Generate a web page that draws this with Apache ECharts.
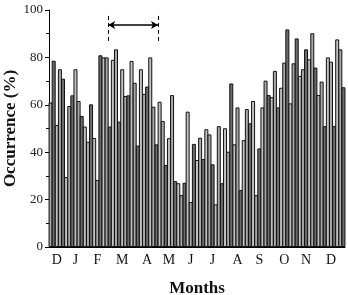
<!DOCTYPE html>
<html lang="en">
<head>
    <meta charset="UTF-8">
    <title></title>
    <style>
        * {
            margin: 0;
            padding: 0;
            box-sizing: border-box;
        }

        html, body {
            width: 348px;
            height: 295px;
            background: #ffffff;
            overflow: hidden;
        }

        #chart {
            width: 348px;
            height: 295px;
        }
    </style>
    <script type="text/javascript" src="https://cdn.jsdelivr.net/npm/echarts@6/dist/echarts.min.js"></script>
</head>
<body>
<div id="chart"></div>
<script type="text/javascript">
    // occurrence (%) per period, Dec -> Dec
    var occurrence = [
        61, 78.6, 51.5, 75, 71, 29.5, 59.5, 64, 75, 61.6,
        55.3, 50.8, 44.4, 60.2, 46, 28.3, 80.9, 80, 80, 50.8,
        79, 83.4, 52.9, 75, 63.7, 64, 78.5, 69.3, 42.8, 75,
        64.6, 67.7, 80, 59.2, 43.3, 61.3, 53.2, 34.6, 45.9, 64.1,
        27.8, 26.9, 21.9, 27.1, 57.1, 19, 43.5, 36.7, 46.1, 37.1,
        49.7, 47.5, 34.9, 18, 51, 26.9, 50.1, 40.2, 69, 43.3,
        58.9, 24, 45.1, 58.2, 52.2, 61.6, 21.9, 41.6, 58.9, 70.2,
        64.1, 63.2, 74.3, 58.9, 67.2, 77.8, 91.8, 60.6, 77.5, 88,
        72.2, 75, 83.4, 79.2, 90.2, 75.7, 64.1, 69.8, 51, 80,
        78.2, 51, 87.6, 83.4, 67.4
    ]
    var months = ['D', 'J', 'F', 'M', 'A', 'M', 'J', 'J', 'A', 'S', 'O', 'N', 'D']
    // index of first period in each month
    var monthStart = [0, 5, 12, 19, 27, 35, 42, 49, 56, 64, 71, 79, 86]
    var yTicks = [0, 20, 40, 60, 80, 100]
    // span marked by the arrow (period boundaries), and its height (%)
    var spanFrom = 19
    var spanTo = 35
    var spanLevel = 93.7

    var n = occurrence.length
    var cats = occurrence.map(function (_v, i) { return String(i + 1) })
    var labelIdx = {}
    monthStart.forEach(function (s, m) {
        var e = m + 1 < monthStart.length ? monthStart[m + 1] : n
        labelIdx[Math.floor((s + e) / 2)] = months[m]
    })
    var fills = ['#a9a9a9', '#6c6c6c', '#c2c2c2']
    var serif = '"Liberation Serif", "DejaVu Serif", serif'

    var myChart = echarts.init(document.getElementById('chart'))
    var option = {
        animation: false,
        grid: {left: 49, right: 3, top: 10, bottom: 48, outerBoundsMode: 'none', containLabel: false},
        xAxis: [
            {
                type: 'category',
                data: cats,
                name: 'Months',
                nameLocation: 'middle',
                nameGap: 33,
                nameMoveOverlap: false,
                nameTextStyle: {fontFamily: serif, fontWeight: 'bold', fontSize: 17, color: '#111'},
                axisLine: {lineStyle: {color: '#000', width: 1}},
                axisTick: {
                    length: 4,
                    lineStyle: {color: '#000'},
                    interval: function (i) { return monthStart.indexOf(i) >= 0 }
                },
                axisLabel: {
                    interval: function (i) { return labelIdx[i] !== undefined },
                    formatter: function (_v, i) { return labelIdx[i] || '' },
                    fontFamily: serif,
                    fontSize: 14,
                    color: '#111',
                    margin: 6
                },
                splitLine: {show: false}
            },
            {
                type: 'value',
                min: 0,
                max: n,
                show: false
            }
        ],
        yAxis: {
            type: 'value',
            min: yTicks[0],
            max: yTicks[yTicks.length - 1],
            interval: 20,
            name: 'Occurrence (%)',
            nameLocation: 'middle',
            nameGap: 30,
            nameMoveOverlap: false,
            nameTextStyle: {fontFamily: serif, fontWeight: 'bold', fontSize: 17, color: '#111'},
            axisLine: {show: true, lineStyle: {color: '#000'}},
            axisTick: {show: true, length: 4, lineStyle: {color: '#000'}},
            minorTick: {show: true, splitNumber: 2, length: 3, lineStyle: {color: '#000'}},
            axisLabel: {fontFamily: serif, fontSize: 13, color: '#222', margin: 6},
            splitLine: {show: false}
        },
        series: [
            {
                type: 'bar',
                data: occurrence,
                barWidth: 4,
                itemStyle: {
                    color: function (p) { return fills[p.dataIndex % fills.length] },
                    borderColor: '#111',
                    borderWidth: 1
                }
            },
            {
                type: 'line',
                xAxisIndex: 1,
                data: [],
                silent: true,
                markLine: {
                    silent: true,
                    label: {show: false},
                    data: [
                        [
                            {coord: [spanFrom, 97.5], symbol: 'none', lineStyle: {type: [4, 3], width: 1, color: '#000'}},
                            {coord: [spanFrom, 86], symbol: 'none'}
                        ],
                        [
                            {coord: [spanTo, 97.5], symbol: 'none', lineStyle: {type: [4, 3], width: 1, color: '#000'}},
                            {coord: [spanTo, 86], symbol: 'none'}
                        ],
                        [
                            {coord: [spanFrom, spanLevel], symbol: 'arrow', symbolSize: [6, 7], lineStyle: {type: 'solid', width: 1.5, color: '#000'}},
                            {coord: [spanTo, spanLevel], symbol: 'arrow', symbolSize: [6, 7]}
                        ]
                    ]
                }
            }
        ]
    }
    myChart.setOption(option)
</script>
</body>
</html>
